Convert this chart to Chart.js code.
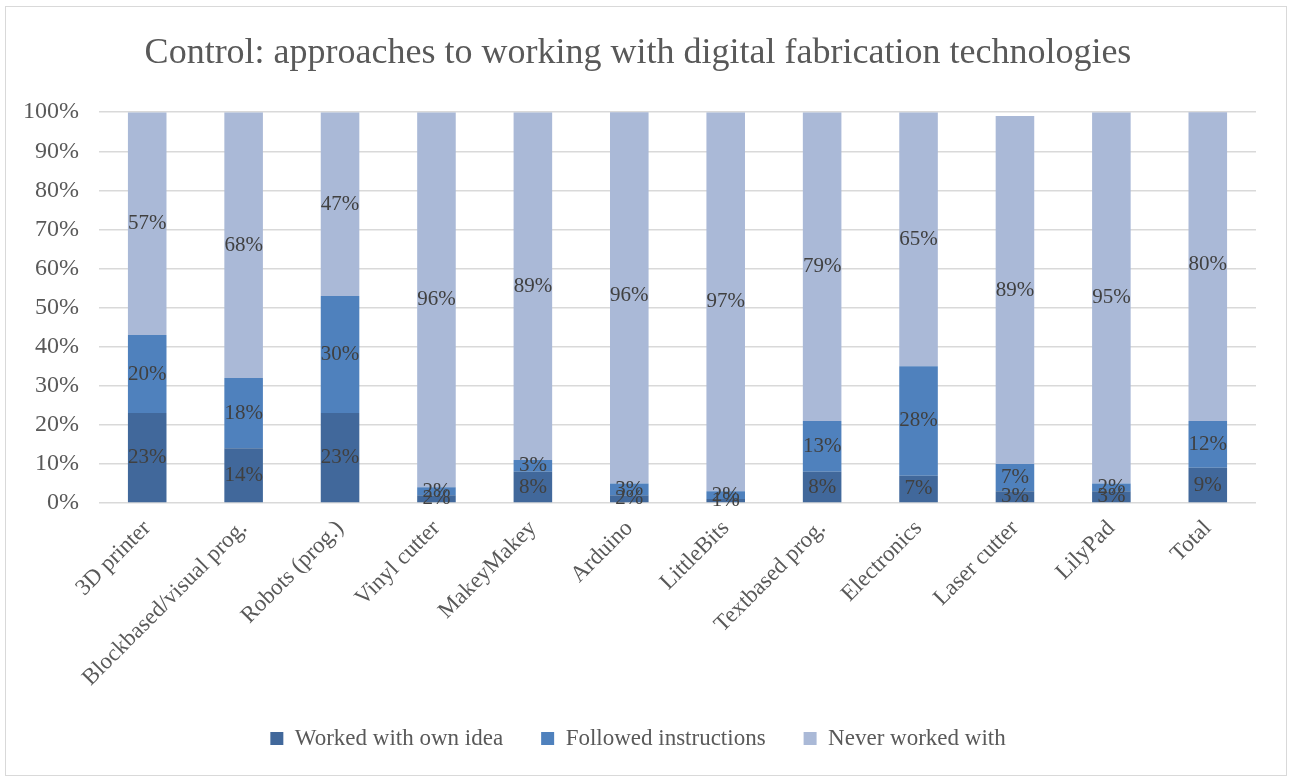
<!DOCTYPE html>
<html>
<head>
<meta charset="utf-8">
<script src="https://cdn.jsdelivr.net/npm/chart.js@4/dist/chart.umd.min.js"></script>
<style>
  html, body { margin: 0; padding: 0; background: #fff; }
  #wrap { width: 1290px; height: 778px; }
</style>
</head>
<body>
<div id="wrap"><canvas id="approachChart"></canvas></div>
<script>
  "use strict";

  var categories = [
    "3D printer", "Blockbased/visual prog.", "Robots (prog.)", "Vinyl cutter",
    "MakeyMakey", "Arduino", "LittleBits", "Textbased prog.", "Electronics",
    "Laser cutter", "LilyPad", "Total"
  ];
  var ownIdea      = [23, 14, 23, 2, 8, 2, 1, 8, 7, 3, 3, 9];
  var followed     = [20, 18, 30, 2, 3, 3, 2, 13, 28, 7, 2, 12];
  var neverWorked  = [57, 68, 47, 96, 89, 96, 97, 79, 65, 89, 95, 80];
  var yTicks = [0, 10, 20, 30, 40, 50, 60, 70, 80, 90, 100];

  var serif = "'Liberation Serif', 'DejaVu Serif', serif";

  // percentage labels in the middle of every segment
  var segmentLabels = {
    id: "segmentLabels",
    afterDatasetsDraw: function (chart) {
      var ctx = chart.ctx;
      ctx.save();
      ctx.font = "21px " + serif;
      ctx.fillStyle = "#404040";
      ctx.textAlign = "center";
      ctx.textBaseline = "middle";
      chart.data.datasets.forEach(function (ds, i) {
        chart.getDatasetMeta(i).data.forEach(function (bar, j) {
          var mid = (bar.y + bar.base) / 2;
          ctx.fillText(ds.data[j] + "%", bar.x, mid);
        });
      });
      ctx.restore();
    }
  };

  // thin frame around the whole chart
  var frame = {
    id: "frame",
    beforeDraw: function (chart) {
      var ctx = chart.ctx;
      ctx.save();
      ctx.strokeStyle = "#D9D9D9";
      ctx.lineWidth = 1;
      ctx.strokeRect(5.5, 6.5, 1281, 769);
      ctx.restore();
    }
  };

  var ctx = document.getElementById("approachChart");
  var myChart = new Chart(ctx, {
    type: "bar",
    data: {
      labels: categories,
      datasets: [{
        label: "Worked with own idea",
        data: ownIdea,
        backgroundColor: "#41689B"
      }, {
        label: "Followed instructions",
        data: followed,
        backgroundColor: "#4F81BD"
      }, {
        label: "Never worked with",
        data: neverWorked,
        backgroundColor: "#AAB9D7"
      }]
    },
    options: {
      responsive: true,
      maintainAspectRatio: false,
      animation: false,
      layout: { padding: { top: 14, left: 20, right: 34, bottom: 18 } },
      datasets: {
        bar: { categoryPercentage: 1, barPercentage: 0.4 }
      },
      plugins: {
        title: {
          display: true,
          text: "Control: approaches to working with digital fabrication technologies",
          color: "#595959",
          font: { family: serif, size: 36, weight: "normal" },
          padding: { top: 18, bottom: 37 }
        },
        legend: {
          position: "bottom",
          labels: {
            color: "#595959",
            font: { family: serif, size: 23 },
            boxWidth: 13,
            boxHeight: 13,
            padding: 38
          }
        },
        tooltip: { enabled: false }
      },
      scales: {
        x: {
          stacked: true,
          grid: { display: false },
          border: { display: false },
          ticks: {
            color: "#595959",
            font: { family: serif, size: 23 },
            minRotation: 45,
            maxRotation: 45,
            padding: 4
          },
          afterFit: function (scale) { scale.height = 186; }
        },
        y: {
          stacked: true,
          min: 0,
          max: 100,
          afterBuildTicks: function (scale) {
            scale.ticks = yTicks.map(function (v) { return { value: v }; });
          },
          grid: { color: "#D9D9D9", lineWidth: 1.5, drawTicks: false },
          border: { display: false },
          ticks: {
            color: "#595959",
            font: { family: serif, size: 24 },
            padding: 20,
            callback: function (v) { return v + "%"; }
          },
          afterFit: function (scale) { scale.width = 79; }
        }
      }
    },
    plugins: [segmentLabels, frame]
  });
</script>
</body>
</html>
